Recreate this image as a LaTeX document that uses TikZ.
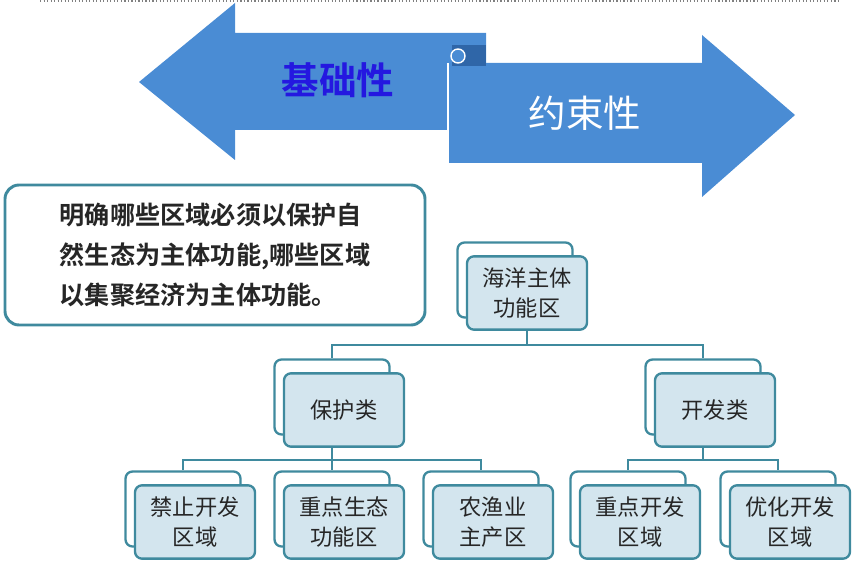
\documentclass[tikz,border=0pt]{standalone}
\usepackage{fontspec}
\newfontfamily\cjk{Noto Sans CJK SC}
\newfontfamily\cjkb{Noto Sans CJK SC Bold}
\usetikzlibrary{positioning,calc,backgrounds}
\definecolor{arrowblue}{HTML}{4A8CD4}
\definecolor{darkblue}{HTML}{2F66A8}
\definecolor{tealline}{HTML}{3F8A9E}
\definecolor{boxfill}{HTML}{D3E5EE}
\definecolor{titleblue}{HTML}{2418E0}
\tikzset{
  backbox/.style={draw=tealline, fill=white, rounded corners=6pt, line width=2pt,
    minimum width=3.45cm, minimum height=2.25cm},
  frontbox/.style={draw=tealline, fill=boxfill, rounded corners=6pt, line width=2pt,
    minimum width=3.6cm, minimum height=2.2cm, align=center,
    font=\cjk\fontsize{19}{25}\selectfont, text=black!85},
  link/.style={draw=tealline, line width=2pt}
}
% back frame and front box of one tree item
\newcommand{\treeitem}[3]{%
  \node[backbox] (#1-b) at ($(#2)+(-12,-13)$) {};
  \node[frontbox] (#1) at (#2) {#3};
}
\begin{document}
\begin{tikzpicture}[x=0.03cm, y=-0.03cm]
  \useasboundingbox (0,0) rectangle (858,567);
  % dotted rule at the top
  \draw[gray, dotted, line width=1pt] (40,1) -- (840,1);

  % two arrows
  \fill[arrowblue] (139,82) -- (235,3) -- (235,33) -- (486,33) -- (486,130)
    -- (235,130) -- (235,160) -- cycle;
  \fill[arrowblue] (448,63) -- (702,63) -- (702,35) -- (795,115) -- (702,197)
    -- (702,163) -- (448,163) -- cycle;
  \fill[darkblue] (452,45) rectangle (486,66);
  \draw[white, line width=1.2pt, fill=arrowblue] (458,56) circle (7);
  \draw[white, line width=1.2pt] (448,63) -- (448,163);
  \node[font=\cjkb\fontsize{32}{36}\selectfont, text=titleblue] (base) at (338,80) {基础性};
  \node[font=\cjk\fontsize{32}{36}\selectfont, text=white] (bind) at (585,113) {约束性};

  % statement box
  \node[draw=tealline, line width=2.5pt, rounded corners=12pt, fill=white,
    minimum width=12.6cm, minimum height=4.2cm, align=left,
    font=\cjkb\fontsize{21.5}{34}\selectfont, text=black!85] (note) at (215,255)
    {明确哪些区域必须以保护自\\然生态为主体功能,哪些区域\\以集聚经济为主体功能。};

  % tree
  \treeitem{root}{527,293}{海洋主体\\功能区}
  \treeitem{prot}{344,410}{保护类}
  \treeitem{dev}{715,410}{开发类}
  \treeitem{ban}{195,522}{禁止开发\\区域}
  \treeitem{eco}{344,522}{重点生态\\功能区}
  \treeitem{farm}{493,522}{农渔业\\主产区}
  \treeitem{key}{640,522}{重点开发\\区域}
  \treeitem{opt}{790,522}{优化开发\\区域}

  \coordinate (bus1) at (527,345);
  \coordinate (bus2) at (332,460);
  \coordinate (bus3) at (703,460);
  \begin{scope}[on background layer]
    \draw[link] (root) -- (bus1);
    \draw[link] (bus1) -| (prot-b.north);
    \draw[link] (bus1) -| (dev-b.north);
    \draw[link] (prot-b) -- (bus2);
    \draw[link] (bus2) -| (ban-b.north);
    \draw[link] (bus2) -- (eco-b.north);
    \draw[link] (bus2) -| (farm-b.north);
    \draw[link] (dev-b) -- (bus3);
    \draw[link] (bus3) -| (key-b.north);
    \draw[link] (bus3) -| (opt-b.north);
  \end{scope}
\end{tikzpicture}
\end{document}
